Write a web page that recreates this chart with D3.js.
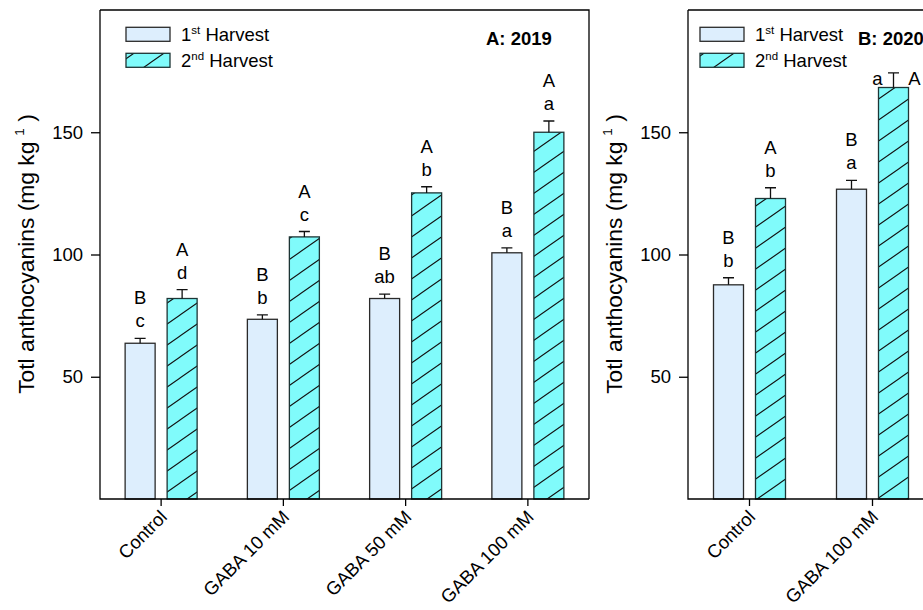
<!DOCTYPE html>
<html>
<head>
<meta charset="utf-8">
<script src="https://cdn.jsdelivr.net/npm/d3@7"></script>
<style>
  html, body { margin: 0; padding: 0; background: #fff; }
  svg { display: block; font-family: "Liberation Sans", Arial, sans-serif; }
</style>
</head>
<body>
<svg id="chart" width="923" height="610"></svg>
<script>
// ---------------- DATA ----------------
const categoriesA = ["Control", "GABA 10 mM", "GABA 50 mM", "GABA 100 mM"];
const harvest1A = [63.7, 73.5, 82.0, 100.7];
const harvest1ErrA = [2.0, 1.8, 1.8, 2.0];
const harvest2A = [82.0, 107.2, 125.2, 150.0];
const harvest2ErrA = [3.6, 2.2, 2.5, 4.6];
const letters1A = [["B", "c"], ["B", "b"], ["B", "ab"], ["B", "a"]];
const letters2A = [["A", "d"], ["A", "c"], ["A", "b"], ["A", "a"]];

const categoriesB = ["Control", "GABA 100 mM"];
const harvest1B = [87.6, 126.7];
const harvest1ErrB = [2.9, 3.6];
const harvest2B = [122.9, 168.3];
const harvest2ErrB = [4.4, 6.0];
const letters1B = [["B", "b"], ["B", "a"]];
const letters2B = [["A", "b"], ["A", "a"]];

const yTicks = [50, 100, 150];
const seriesNames = [["1", "st", " Harvest"], ["2", "nd", " Harvest"]];
const panelTitles = ["A: 2019", "B: 2020"];
const yLabel = "Totl anthocyanins (mg kg";

// ---------------- LAYOUT ----------------
const svg = d3.select("#chart");
const plotTop = 10, plotBottom = 499;
const fill1 = "#ddeefd", fill2 = "#80fbfb";
const stroke1 = "#2a2a2a", stroke2 = "#1d3535";
const fs = 18.5;

const defs = svg.append("defs");
const pat = defs.append("pattern")
  .attr("id", "hatch").attr("patternUnits", "userSpaceOnUse")
  .attr("width", 30).attr("height", 21);
pat.append("rect").attr("width", 30).attr("height", 21).attr("fill", fill2);
pat.append("path")
  .attr("d", "M-3,23.1 L33,-2.1 M-33,23.1 L3,-2.1 M27,23.1 L63,-2.1")
  .attr("stroke", "#111").attr("stroke-width", 1.1).attr("fill", "none");

const y = d3.scaleLinear().domain([0, 200]).range([plotBottom, plotTop]);

function drawPanel(cfg) {
  const g = svg.append("g");
  const x = d3.scaleBand().domain(cfg.categories).range([cfg.left, cfg.right]).padding(0);
  const x1 = d3.scaleBand().domain([0, 1]).range([-36, 36]).paddingInner(12 / 42).paddingOuter(0);

  const series = [
    { vals: cfg.h1, errs: cfg.e1, letters: cfg.l1, fill: fill1, stroke: stroke1 },
    { vals: cfg.h2, errs: cfg.e2, letters: cfg.l2, fill: "url(#hatch)", stroke: stroke2 }
  ];

  series.forEach((s, si) => {
    const rows = cfg.categories.map((c, i) => ({ c, v: s.vals[i], e: s.errs[i], l: s.letters[i] }));
    const cx = d => x(d.c) + x.bandwidth() / 2 + x1(si);
    g.selectAll(null).data(rows).join("rect")
      .attr("x", d => cx(d)).attr("y", d => y(d.v))
      .attr("width", x1.bandwidth()).attr("height", d => y(0) - y(d.v))
      .attr("fill", s.fill).attr("stroke", s.stroke).attr("stroke-width", 1.3);
    const mid = d => cx(d) + x1.bandwidth() / 2;
    g.selectAll(null).data(rows).join("path")
      .attr("d", d => `M${mid(d)},${y(d.v)} V${y(d.v + d.e)} M${mid(d) - 5.5},${y(d.v + d.e)} H${mid(d) + 5.5}`)
      .attr("stroke", "#111").attr("stroke-width", 1.3).attr("fill", "none");
    rows.forEach(d => {
      const capY = y(d.v + d.e);
      const m = mid(d);
      if (cfg.sideLabels && capY - 34 - 13 < 75) {
        g.append("text").attr("x", m - 16).attr("y", capY + 12).attr("text-anchor", "middle")
          .attr("font-size", fs).text(d.l[1]);
        g.append("text").attr("x", m + 21).attr("y", capY + 12).attr("text-anchor", "middle")
          .attr("font-size", fs).text(d.l[0]);
      } else {
        g.append("text").attr("x", m).attr("y", capY - 34).attr("text-anchor", "middle")
          .attr("font-size", fs).text(d.l[0]);
        g.append("text").attr("x", m).attr("y", capY - 11).attr("text-anchor", "middle")
          .attr("font-size", fs).text(d.l[1]);
      }
    });
  });

  g.append("path")
    .attr("d", `M${cfg.left},${plotTop} H${cfg.right} V${plotBottom} M${cfg.left},${plotTop} V${plotBottom} H${cfg.right}`)
    .attr("stroke", "#000").attr("stroke-width", 1.3).attr("fill", "none");

  const ya = g.append("g").attr("transform", `translate(${cfg.left},0)`)
    .call(d3.axisLeft(y).tickValues(yTicks).tickSize(9).tickPadding(8));
  ya.select(".domain").remove();
  ya.selectAll("line").attr("stroke", "#000").attr("stroke-width", 1.3);
  ya.selectAll("text").attr("font-size", fs).attr("fill", "#000")
    .attr("font-family", "Liberation Sans, Arial, sans-serif");

  const xa = g.append("g").attr("transform", `translate(0,${plotBottom})`)
    .call(d3.axisBottom(x).tickSize(7).tickFormat(""));
  xa.select(".domain").remove();
  xa.selectAll("line").attr("stroke", "#000").attr("stroke-width", 1.3);
  g.selectAll(null).data(cfg.categories).join("text")
    .attr("transform", d => `translate(${x(d) + x.bandwidth() / 2 + 7},518) rotate(-45)`)
    .attr("text-anchor", "end").attr("font-size", fs).text(d => d);

  const yl = g.append("text")
    .attr("transform", `translate(${cfg.left - 66},254) rotate(-90)`)
    .attr("text-anchor", "middle").attr("font-size", 22.8);
  yl.append("tspan").text(yLabel);
  yl.append("tspan").attr("dx", 6).attr("dy", -10).attr("font-size", 13.5).text("1");
  yl.append("tspan").attr("dy", 10).text(" )");

  seriesNames.forEach((nm, i) => {
    const ly = 27.3 + i * 26;
    g.append("rect").attr("x", cfg.legendX).attr("y", ly).attr("width", 44).attr("height", 14)
      .attr("fill", i === 0 ? fill1 : "url(#hatch)").attr("stroke", i === 0 ? stroke1 : stroke2)
      .attr("stroke-width", 1.3);
    const t = g.append("text").attr("x", cfg.legendX + 55).attr("y", ly + 13.5).attr("font-size", fs);
    t.append("tspan").text(nm[0]);
    t.append("tspan").attr("dy", -7).attr("font-size", 11.5).text(nm[1]);
    t.append("tspan").attr("dy", 7).text(nm[2]);
  });

  g.append("text").attr("x", cfg.titleX).attr("y", 44.5).attr("font-size", fs)
    .attr("font-weight", "bold").text(cfg.title);
}

drawPanel({
  categories: categoriesA, h1: harvest1A, e1: harvest1ErrA, h2: harvest2A, e2: harvest2ErrA,
  l1: letters1A, l2: letters2A, left: 100, right: 589, legendX: 126, titleX: 486,
  title: panelTitles[0], sideLabels: false
});
drawPanel({
  categories: categoriesB, h1: harvest1B, e1: harvest1ErrB, h2: harvest2B, e2: harvest2ErrB,
  l1: letters1B, l2: letters2B, left: 688, right: 934, legendX: 700, titleX: 858,
  title: panelTitles[1], sideLabels: true
});
</script>
</body>
</html>
